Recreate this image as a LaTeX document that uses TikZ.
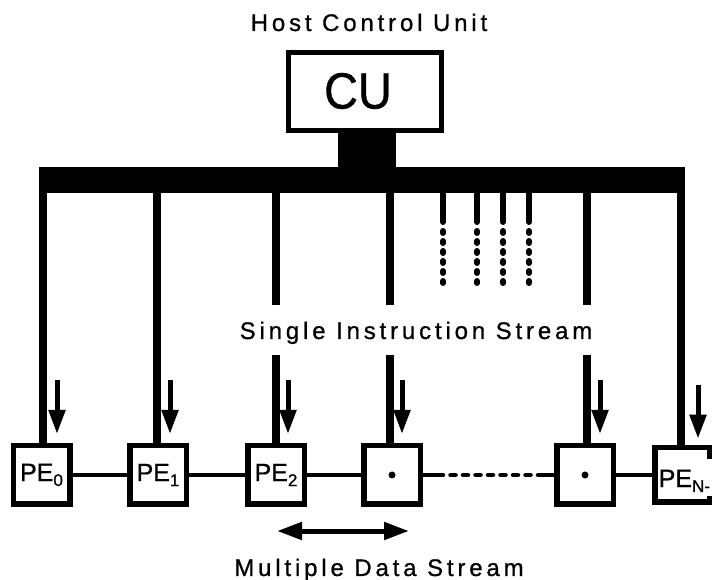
\documentclass[tikz,border=0pt]{standalone}
\usepackage{fontspec}
\setmainfont{Liberation Sans}[FakeBold=0.8]
\newfontfamily\spaced[LetterSpace=16, FakeBold=0.8]{Liberation Sans}
\usetikzlibrary{arrows.meta}

% lowered subscript used in the PE labels
\newcommand\pesub[1]{\raisebox{-5pt}{\fontsize{17}{17}\selectfont #1}}

\begin{document}
\begin{tikzpicture}[x=1pt,y=-1pt,
  pebox/.style={draw, line width=5.5pt, minimum width=56.5pt, minimum height=58.5pt,
    inner sep=0pt, font=\fontsize{25}{25}\selectfont},
  solidblk/.style={fill=black, inner sep=0pt, outer sep=0pt},
  bar/.style={line width=8pt},
  link/.style={line width=4.5pt},
  dashlink/.style={line width=4.5pt, line cap=round, dash pattern=on 5pt off 7.5pt},
  dotline/.style={line width=6pt, line cap=round,
    dash pattern=on 29pt off 9pt on 2pt off 8pt on 2pt off 8pt on 2pt off 8pt
                 on 2pt off 8pt on 2pt off 8pt on 2pt off 40pt},
  down/.style={line width=5pt, -{Triangle[length=24pt,width=16pt]}},
  both/.style={line width=5pt,
    {Triangle[length=25pt,width=17pt]}-{Triangle[length=25pt,width=17pt]}},
  caption/.style={font=\spaced\fontsize{24}{24}\selectfont, inner sep=0pt, anchor=base},
]
\useasboundingbox (0,0) rectangle (716,580);
\fill[white] (0,0) rectangle (716,580);

% host control unit
\node[caption] (host) at (369,31) {Host Control Unit};
\node[draw, line width=5pt, minimum width=153pt, minimum height=78pt, inner sep=0pt,
  label={[xshift=-7pt, yshift=0.5pt, font=\fontsize{51}{51}\selectfont]center:\scalebox{0.92}[1]{CU}}]
  (cu) at (365,91.5) {};
\node[solidblk, minimum width=58pt, minimum height=36pt] (stem) at (367,150) {};
\node[solidblk, minimum width=646pt, minimum height=26pt] (bus) at (362,180) {};

% processing elements
\node[pebox] (pe0) at (41.5,475) {PE\pesub{0}};
\node[pebox] (pe1) at (158,475) {PE\pesub{1}};
\node[pebox] (pe2) at (276,475) {PE\pesub{2}};
\node[pebox] (pe3) at (392,475) {};
\node[pebox] (pe4) at (585,475) {};
\fill (pe3.center) circle (3.5pt);
\fill (pe4.center) circle (3.5pt);

% last element, its right side interrupted by the label
\node[minimum width=54.5pt, minimum height=54.5pt, inner sep=0pt, outer sep=0pt] (pen) at (682,475) {};
\draw[line width=5.5pt] ([yshift=-11pt]pen.north east) -- (pen.north east) -- (pen.north west)
  -- (pen.south west) -- (pen.south east) -- ([yshift=6pt]pen.south east);
\node[anchor=base west, inner sep=0pt, font=\fontsize{25}{25}\selectfont] (penlabel)
  at (658.5,487) {PE\pesub{N-}};

% instruction lines from the bus
\draw[bar] (43,0 |- bus.south) -- (43,0 |- pe0.north);
\draw[bar] (157,0 |- bus.south) -- (157,0 |- pe1.north);
\draw[bar] (276,0 |- bus.south) -- (276,305);
\draw[bar] (276,355) -- (276,0 |- pe2.north);
\draw[bar] (390,0 |- bus.south) -- (390,305);
\draw[bar] (390,355) -- (390,0 |- pe3.north);
\draw[bar] (587,0 |- bus.south) -- (587,305);
\draw[bar] (587,355) -- (587,0 |- pe4.north);
\draw[bar] (681,0 |- bus.south) -- (681,0 |- pen.north);
\foreach \x in {443,477,503,529}
  \draw[dotline] (\x,0 |- bus.south) -- (\x,284);

\node[caption] (sis) at (416,339) {Single Instruction Stream};

% instruction arrows
\foreach \b/\dx in {pe0/15.5, pe1/12, pe2/12, pe3/10, pe4/15, pen/16}
  \draw[down] ([xshift=\dx pt, yshift=63pt]\b.north) -- ([xshift=\dx pt, yshift=9pt]\b.north);

% neighbour links
\coordinate (d1) at (438,475);
\coordinate (d2) at (538,475);
\draw[link] (pe0) -- (pe1);
\draw[link] (pe1) -- (pe2);
\draw[link] (pe2) -- (pe3);
\draw[link] (pe3) -- (d1);
\draw[dashlink] (d1) -- (d2);
\draw[link] (d2) -- (pe4);
\draw[link] (pe4) -- (pen);

% data stream
\coordinate (ma) at (277,531);
\coordinate (mb) at (409,531);
\draw[both] (ma) -- (mb);
\node[caption] (mds) at (379,576) {Multiple Data Stream};
\end{tikzpicture}
\end{document}
